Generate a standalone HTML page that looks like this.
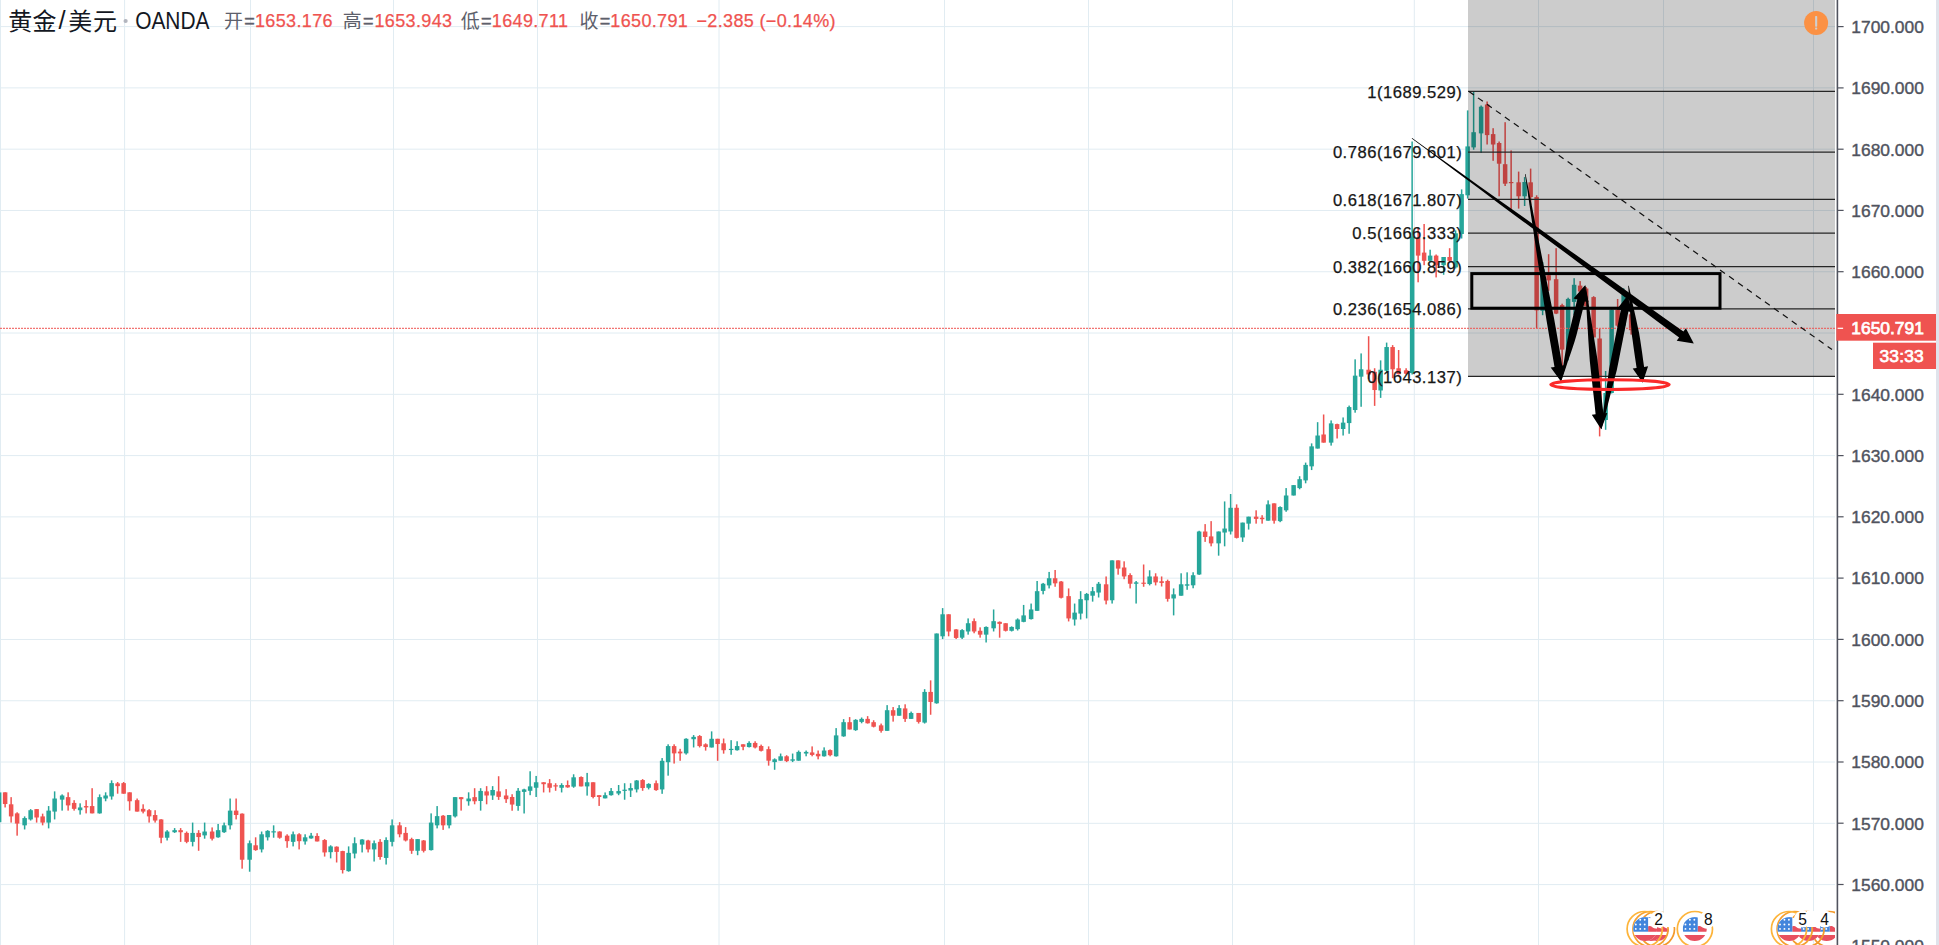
<!DOCTYPE html>
<html><head><meta charset="utf-8"><title>黄金/美元 OANDA</title>
<style>
html,body{margin:0;padding:0;background:#fff;}
body{width:1939px;height:945px;overflow:hidden;position:relative;}
svg{position:absolute;left:0;top:0;}
</style></head>
<body>
<svg width="1939" height="945" viewBox="0 0 1939 945">
<g stroke="#e1ecf2" stroke-width="1"><line x1="0.5" y1="0" x2="0.5" y2="945"/><line x1="124.6" y1="0" x2="124.6" y2="945"/><line x1="250.5" y1="0" x2="250.5" y2="945"/><line x1="393.5" y1="0" x2="393.5" y2="945"/><line x1="537.5" y1="0" x2="537.5" y2="945"/><line x1="719" y1="0" x2="719" y2="945"/><line x1="944.5" y1="0" x2="944.5" y2="945"/><line x1="1088.5" y1="0" x2="1088.5" y2="945"/><line x1="1232.5" y1="0" x2="1232.5" y2="945"/><line x1="1414.3" y1="0" x2="1414.3" y2="945"/><line x1="1538.5" y1="0" x2="1538.5" y2="945"/><line x1="1663.5" y1="0" x2="1663.5" y2="945"/><line x1="1813.5" y1="0" x2="1813.5" y2="945"/><line x1="0" y1="26.6" x2="1835.0" y2="26.6"/><line x1="0" y1="87.89" x2="1835.0" y2="87.89"/><line x1="0" y1="149.17" x2="1835.0" y2="149.17"/><line x1="0" y1="210.46" x2="1835.0" y2="210.46"/><line x1="0" y1="271.74" x2="1835.0" y2="271.74"/><line x1="0" y1="333.03" x2="1835.0" y2="333.03"/><line x1="0" y1="394.32" x2="1835.0" y2="394.32"/><line x1="0" y1="455.6" x2="1835.0" y2="455.6"/><line x1="0" y1="516.89" x2="1835.0" y2="516.89"/><line x1="0" y1="578.17" x2="1835.0" y2="578.17"/><line x1="0" y1="639.46" x2="1835.0" y2="639.46"/><line x1="0" y1="700.75" x2="1835.0" y2="700.75"/><line x1="0" y1="762.03" x2="1835.0" y2="762.03"/><line x1="0" y1="823.32" x2="1835.0" y2="823.32"/><line x1="0" y1="884.6" x2="1835.0" y2="884.6"/><line x1="0" y1="945.89" x2="1835.0" y2="945.89"/></g><g fill="#26a69a"><rect x="-1.62" y="790.50" width="1.5" height="33.50"/><rect x="-3.12" y="792.40" width="4.5" height="29.80"/><rect x="23.88" y="816.40" width="1.5" height="13.07"/><rect x="22.38" y="818.05" width="4.5" height="7.29"/><rect x="29.88" y="809.11" width="1.5" height="11.42"/><rect x="28.38" y="810.21" width="4.5" height="9.22"/><rect x="47.88" y="806.08" width="1.5" height="22.29"/><rect x="46.38" y="810.62" width="4.5" height="11.97"/><rect x="53.88" y="791.37" width="1.5" height="28.06"/><rect x="52.38" y="798.52" width="4.5" height="13.07"/><rect x="61.38" y="794.39" width="1.5" height="16.23"/><rect x="59.88" y="795.49" width="4.5" height="4.13"/><rect x="79.38" y="803.33" width="1.5" height="11.28"/><rect x="77.88" y="807.46" width="4.5" height="2.75"/><rect x="98.88" y="794.39" width="1.5" height="19.26"/><rect x="97.38" y="797.14" width="4.5" height="16.23"/><rect x="104.88" y="792.33" width="1.5" height="8.94"/><rect x="103.38" y="795.49" width="4.5" height="3.03"/><rect x="110.88" y="780.36" width="1.5" height="19.26"/><rect x="109.38" y="783.11" width="4.5" height="13.34"/><rect x="166.38" y="830.16" width="1.5" height="10.32"/><rect x="164.88" y="831.53" width="4.5" height="6.19"/><rect x="173.88" y="828.10" width="1.5" height="4.81"/><rect x="172.38" y="830.16" width="4.5" height="2.06"/><rect x="191.88" y="822.59" width="1.5" height="23.80"/><rect x="190.38" y="832.91" width="4.5" height="8.94"/><rect x="203.88" y="822.59" width="1.5" height="16.10"/><rect x="202.38" y="831.53" width="4.5" height="3.85"/><rect x="217.38" y="823.97" width="1.5" height="13.76"/><rect x="215.88" y="830.16" width="4.5" height="7.15"/><rect x="223.38" y="822.59" width="1.5" height="10.32"/><rect x="221.88" y="825.34" width="4.5" height="6.88"/><rect x="229.38" y="798.52" width="1.5" height="30.95"/><rect x="227.88" y="810.62" width="4.5" height="14.72"/><rect x="248.88" y="840.48" width="1.5" height="31.23"/><rect x="247.38" y="843.23" width="4.5" height="16.51"/><rect x="260.88" y="831.53" width="1.5" height="20.91"/><rect x="259.38" y="834.29" width="4.5" height="15.13"/><rect x="266.88" y="830.16" width="1.5" height="10.32"/><rect x="265.38" y="830.85" width="4.5" height="6.47"/><rect x="272.88" y="825.34" width="1.5" height="12.38"/><rect x="271.38" y="831.26" width="4.5" height="1.20"/><rect x="292.38" y="831.53" width="1.5" height="14.86"/><rect x="290.88" y="834.29" width="4.5" height="7.57"/><rect x="304.38" y="834.29" width="1.5" height="10.32"/><rect x="302.88" y="837.31" width="4.5" height="4.13"/><rect x="310.38" y="832.91" width="1.5" height="5.78"/><rect x="308.88" y="835.66" width="4.5" height="2.75"/><rect x="329.88" y="845.29" width="1.5" height="13.07"/><rect x="328.38" y="846.39" width="4.5" height="5.78"/><rect x="347.88" y="846.39" width="1.5" height="25.31"/><rect x="346.38" y="852.86" width="4.5" height="18.30"/><rect x="353.88" y="837.31" width="1.5" height="21.05"/><rect x="352.38" y="843.23" width="4.5" height="10.32"/><rect x="361.38" y="839.10" width="1.5" height="13.34"/><rect x="359.88" y="839.51" width="4.5" height="5.09"/><rect x="373.38" y="840.48" width="1.5" height="21.05"/><rect x="371.88" y="843.23" width="4.5" height="6.19"/><rect x="385.38" y="837.31" width="1.5" height="27.24"/><rect x="383.88" y="840.06" width="4.5" height="17.88"/><rect x="391.38" y="819.43" width="1.5" height="26.96"/><rect x="389.88" y="825.34" width="4.5" height="16.51"/><rect x="416.88" y="839.10" width="1.5" height="16.10"/><rect x="415.38" y="839.10" width="4.5" height="11.69"/><rect x="430.38" y="813.38" width="1.5" height="37.14"/><rect x="428.88" y="822.59" width="4.5" height="27.51"/><rect x="436.38" y="806.08" width="1.5" height="22.29"/><rect x="434.88" y="816.13" width="4.5" height="9.22"/><rect x="448.38" y="815.03" width="1.5" height="13.34"/><rect x="446.88" y="815.03" width="4.5" height="10.32"/><rect x="454.38" y="797.14" width="1.5" height="20.36"/><rect x="452.88" y="797.14" width="4.5" height="19.26"/><rect x="467.88" y="792.33" width="1.5" height="13.34"/><rect x="466.38" y="798.52" width="4.5" height="2.75"/><rect x="479.88" y="788.20" width="1.5" height="22.42"/><rect x="478.38" y="790.95" width="4.5" height="10.04"/><rect x="491.88" y="786.14" width="1.5" height="13.76"/><rect x="490.38" y="789.99" width="4.5" height="5.50"/><rect x="517.38" y="788.04" width="1.5" height="22.70"/><rect x="515.88" y="790.79" width="4.5" height="15.13"/><rect x="523.38" y="788.73" width="1.5" height="24.76"/><rect x="521.88" y="789.42" width="4.5" height="2.48"/><rect x="529.38" y="771.26" width="1.5" height="23.94"/><rect x="527.88" y="786.39" width="4.5" height="4.40"/><rect x="535.38" y="775.94" width="1.5" height="21.05"/><rect x="533.88" y="782.26" width="4.5" height="5.50"/><rect x="560.88" y="783.23" width="1.5" height="9.22"/><rect x="559.38" y="785.02" width="4.5" height="2.75"/><rect x="572.88" y="774.29" width="1.5" height="13.48"/><rect x="571.38" y="777.31" width="4.5" height="9.35"/><rect x="586.38" y="772.91" width="1.5" height="22.70"/><rect x="584.88" y="782.26" width="4.5" height="4.13"/><rect x="604.38" y="792.44" width="1.5" height="5.92"/><rect x="602.88" y="795.20" width="4.5" height="3.16"/><rect x="610.38" y="788.04" width="1.5" height="7.57"/><rect x="608.88" y="791.07" width="4.5" height="4.13"/><rect x="617.88" y="785.02" width="1.5" height="10.18"/><rect x="616.38" y="791.07" width="4.5" height="2.48"/><rect x="623.88" y="783.23" width="1.5" height="16.51"/><rect x="622.38" y="789.69" width="4.5" height="1.20"/><rect x="629.88" y="783.23" width="1.5" height="13.76"/><rect x="628.38" y="788.04" width="4.5" height="2.48"/><rect x="635.88" y="780.06" width="1.5" height="12.38"/><rect x="634.38" y="780.48" width="4.5" height="8.94"/><rect x="647.88" y="783.23" width="1.5" height="6.19"/><rect x="646.38" y="783.92" width="4.5" height="3.85"/><rect x="661.38" y="758.05" width="1.5" height="35.77"/><rect x="659.88" y="760.80" width="4.5" height="28.61"/><rect x="667.38" y="744.30" width="1.5" height="31.37"/><rect x="665.88" y="746.08" width="4.5" height="16.10"/><rect x="685.38" y="738.24" width="1.5" height="16.37"/><rect x="683.88" y="738.79" width="4.5" height="14.58"/><rect x="692.88" y="735.08" width="1.5" height="12.38"/><rect x="691.38" y="736.87" width="4.5" height="2.34"/><rect x="710.88" y="731.37" width="1.5" height="16.10"/><rect x="709.38" y="738.79" width="4.5" height="8.67"/><rect x="730.38" y="740.17" width="1.5" height="14.58"/><rect x="728.88" y="748.84" width="4.5" height="1.20"/><rect x="736.38" y="741.27" width="1.5" height="9.35"/><rect x="734.88" y="746.08" width="4.5" height="4.13"/><rect x="748.38" y="741.27" width="1.5" height="6.19"/><rect x="746.88" y="742.92" width="4.5" height="4.13"/><rect x="773.88" y="758.36" width="1.5" height="11.42"/><rect x="772.38" y="759.32" width="4.5" height="2.75"/><rect x="779.88" y="753.54" width="1.5" height="7.15"/><rect x="778.38" y="756.30" width="4.5" height="4.40"/><rect x="791.88" y="753.54" width="1.5" height="8.53"/><rect x="790.38" y="759.32" width="4.5" height="1.38"/><rect x="797.88" y="750.52" width="1.5" height="10.18"/><rect x="796.38" y="751.89" width="4.5" height="8.80"/><rect x="805.38" y="750.52" width="1.5" height="5.78"/><rect x="803.88" y="751.89" width="4.5" height="1.65"/><rect x="823.38" y="747.35" width="1.5" height="9.22"/><rect x="821.88" y="750.52" width="4.5" height="5.78"/><rect x="835.38" y="728.10" width="1.5" height="28.48"/><rect x="833.88" y="735.39" width="4.5" height="20.91"/><rect x="842.88" y="719.15" width="1.5" height="17.61"/><rect x="841.38" y="722.18" width="4.5" height="14.17"/><rect x="854.88" y="719.15" width="1.5" height="11.69"/><rect x="853.38" y="719.84" width="4.5" height="10.32"/><rect x="860.88" y="717.50" width="1.5" height="5.78"/><rect x="859.38" y="718.88" width="4.5" height="3.03"/><rect x="886.38" y="705.12" width="1.5" height="25.72"/><rect x="884.88" y="710.21" width="4.5" height="20.63"/><rect x="898.38" y="705.12" width="1.5" height="10.59"/><rect x="896.88" y="708.15" width="4.5" height="7.57"/><rect x="910.38" y="711.59" width="1.5" height="7.29"/><rect x="908.88" y="712.96" width="4.5" height="5.92"/><rect x="923.88" y="689.16" width="1.5" height="34.39"/><rect x="922.38" y="691.92" width="4.5" height="30.68"/><rect x="935.88" y="633.50" width="1.5" height="70.20"/><rect x="934.38" y="633.50" width="4.5" height="69.80"/><rect x="941.88" y="608.10" width="1.5" height="30.95"/><rect x="940.38" y="614.29" width="4.5" height="22.01"/><rect x="961.38" y="629.14" width="1.5" height="9.90"/><rect x="959.88" y="630.11" width="4.5" height="7.57"/><rect x="967.38" y="618.41" width="1.5" height="16.23"/><rect x="965.88" y="623.23" width="4.5" height="8.25"/><rect x="985.38" y="626.39" width="1.5" height="16.10"/><rect x="983.88" y="626.94" width="4.5" height="7.70"/><rect x="992.88" y="609.47" width="1.5" height="22.01"/><rect x="991.38" y="621.16" width="4.5" height="7.15"/><rect x="1010.88" y="626.39" width="1.5" height="5.09"/><rect x="1009.38" y="626.94" width="4.5" height="3.85"/><rect x="1016.88" y="618.41" width="1.5" height="12.11"/><rect x="1015.38" y="619.51" width="4.5" height="9.63"/><rect x="1022.88" y="604.93" width="1.5" height="17.33"/><rect x="1021.38" y="615.39" width="4.5" height="6.47"/><rect x="1030.38" y="603.56" width="1.5" height="15.96"/><rect x="1028.88" y="609.47" width="4.5" height="9.63"/><rect x="1036.38" y="580.99" width="1.5" height="29.85"/><rect x="1034.88" y="591.17" width="4.5" height="19.67"/><rect x="1042.38" y="582.92" width="1.5" height="11.42"/><rect x="1040.88" y="583.75" width="4.5" height="7.15"/><rect x="1048.38" y="571.92" width="1.5" height="16.51"/><rect x="1046.88" y="578.24" width="4.5" height="7.15"/><rect x="1073.88" y="603.56" width="1.5" height="22.01"/><rect x="1072.38" y="612.63" width="4.5" height="6.88"/><rect x="1079.88" y="591.17" width="1.5" height="28.34"/><rect x="1078.38" y="599.15" width="4.5" height="14.44"/><rect x="1085.88" y="592.96" width="1.5" height="25.45"/><rect x="1084.38" y="593.93" width="4.5" height="6.33"/><rect x="1091.88" y="587.05" width="1.5" height="14.58"/><rect x="1090.38" y="591.17" width="4.5" height="4.54"/><rect x="1097.88" y="581.96" width="1.5" height="15.54"/><rect x="1096.38" y="583.75" width="4.5" height="8.80"/><rect x="1111.38" y="560.36" width="1.5" height="43.20"/><rect x="1109.88" y="560.36" width="4.5" height="39.89"/><rect x="1135.38" y="580.99" width="1.5" height="22.56"/><rect x="1133.88" y="582.37" width="4.5" height="1.38"/><rect x="1148.88" y="570.26" width="1.5" height="15.13"/><rect x="1147.38" y="576.46" width="4.5" height="7.57"/><rect x="1172.88" y="588.42" width="1.5" height="26.96"/><rect x="1171.38" y="594.34" width="4.5" height="4.13"/><rect x="1180.38" y="573.29" width="1.5" height="22.42"/><rect x="1178.88" y="584.30" width="4.5" height="11.42"/><rect x="1186.38" y="572.33" width="1.5" height="17.47"/><rect x="1184.88" y="584.30" width="4.5" height="1.38"/><rect x="1192.38" y="572.26" width="1.5" height="16.01"/><rect x="1190.88" y="575.23" width="4.5" height="10.08"/><rect x="1198.38" y="530.76" width="1.5" height="44.17"/><rect x="1196.88" y="531.51" width="4.5" height="42.98"/><rect x="1217.88" y="531.51" width="1.5" height="24.16"/><rect x="1216.38" y="531.51" width="4.5" height="11.86"/><rect x="1223.88" y="501.42" width="1.5" height="44.91"/><rect x="1222.38" y="528.54" width="4.5" height="4.00"/><rect x="1229.88" y="494.01" width="1.5" height="40.46"/><rect x="1228.38" y="507.79" width="4.5" height="23.71"/><rect x="1241.88" y="522.61" width="1.5" height="19.27"/><rect x="1240.38" y="522.61" width="4.5" height="14.82"/><rect x="1247.88" y="516.68" width="1.5" height="12.89"/><rect x="1246.38" y="516.68" width="4.5" height="6.97"/><rect x="1267.38" y="500.38" width="1.5" height="20.30"/><rect x="1265.88" y="504.38" width="4.5" height="16.30"/><rect x="1279.38" y="506.31" width="1.5" height="15.86"/><rect x="1277.88" y="507.05" width="4.5" height="14.08"/><rect x="1285.38" y="488.08" width="1.5" height="23.71"/><rect x="1283.88" y="495.49" width="4.5" height="14.82"/><rect x="1292.88" y="485.12" width="1.5" height="10.37"/><rect x="1291.38" y="485.12" width="4.5" height="10.37"/><rect x="1298.88" y="476.22" width="1.5" height="13.04"/><rect x="1297.38" y="479.19" width="4.5" height="8.89"/><rect x="1304.88" y="462.60" width="1.5" height="20.70"/><rect x="1303.38" y="464.90" width="4.5" height="15.50"/><rect x="1310.88" y="443.38" width="1.5" height="26.68"/><rect x="1309.38" y="446.34" width="4.5" height="20.01"/><rect x="1316.88" y="422.18" width="1.5" height="26.38"/><rect x="1315.38" y="435.52" width="4.5" height="13.04"/><rect x="1330.38" y="420.41" width="1.5" height="25.20"/><rect x="1328.88" y="423.37" width="4.5" height="19.27"/><rect x="1342.38" y="417.44" width="1.5" height="18.08"/><rect x="1340.88" y="422.63" width="4.5" height="6.37"/><rect x="1348.38" y="405.59" width="1.5" height="28.16"/><rect x="1346.88" y="407.07" width="4.5" height="16.01"/><rect x="1354.38" y="359.34" width="1.5" height="53.35"/><rect x="1352.88" y="375.65" width="4.5" height="34.38"/><rect x="1360.38" y="353.42" width="1.5" height="53.35"/><rect x="1358.88" y="369.27" width="4.5" height="7.41"/><rect x="1379.88" y="360.38" width="1.5" height="37.50"/><rect x="1378.38" y="369.72" width="4.5" height="20.75"/><rect x="1385.88" y="342.60" width="1.5" height="29.64"/><rect x="1384.38" y="347.04" width="4.5" height="23.71"/><rect x="1411.38" y="141.50" width="1.5" height="233.00"/><rect x="1409.88" y="236.40" width="4.5" height="136.60"/><rect x="1429.38" y="249.70" width="1.5" height="12.50"/><rect x="1427.88" y="255.60" width="4.5" height="5.20"/><rect x="1442.88" y="257.00" width="1.5" height="17.80"/><rect x="1441.38" y="257.00" width="4.5" height="8.20"/><rect x="1454.88" y="230.40" width="1.5" height="38.10"/><rect x="1453.38" y="233.30" width="4.5" height="34.10"/><rect x="1460.88" y="189.40" width="1.5" height="49.10"/><rect x="1459.38" y="194.10" width="4.5" height="39.90"/><rect x="1466.88" y="110.40" width="1.5" height="88.20"/><rect x="1465.38" y="146.40" width="4.5" height="48.90"/><rect x="1472.88" y="91.10" width="1.5" height="58.60"/><rect x="1471.38" y="132.20" width="4.5" height="15.20"/><rect x="1480.38" y="105.50" width="1.5" height="47.40"/><rect x="1478.88" y="106.70" width="4.5" height="26.70"/><rect x="1523.88" y="177.10" width="1.5" height="28.90"/><rect x="1522.38" y="182.00" width="4.5" height="14.30"/><rect x="1541.88" y="262.00" width="1.5" height="53.20"/><rect x="1540.38" y="269.30" width="4.5" height="41.50"/><rect x="1567.38" y="297.70" width="1.5" height="62.70"/><rect x="1565.88" y="298.90" width="4.5" height="50.70"/><rect x="1573.38" y="278.20" width="1.5" height="37.00"/><rect x="1571.88" y="284.80" width="4.5" height="17.10"/><rect x="1604.88" y="371.00" width="1.5" height="58.80"/><rect x="1603.38" y="393.00" width="4.5" height="27.00"/><rect x="1610.88" y="309.30" width="1.5" height="84.20"/><rect x="1609.38" y="309.80" width="4.5" height="83.20"/><rect x="1622.88" y="288.30" width="1.5" height="43.20"/><rect x="1621.38" y="294.50" width="4.5" height="31.10"/></g><g fill="#ef5350"><rect x="4.38" y="792.33" width="1.5" height="15.13"/><rect x="2.88" y="792.33" width="4.5" height="11.69"/><rect x="10.38" y="797.14" width="1.5" height="25.45"/><rect x="8.88" y="804.30" width="4.5" height="12.11"/><rect x="16.38" y="812.28" width="1.5" height="23.39"/><rect x="14.88" y="813.38" width="4.5" height="10.18"/><rect x="35.88" y="809.11" width="1.5" height="13.48"/><rect x="34.38" y="809.11" width="4.5" height="8.39"/><rect x="41.88" y="813.65" width="1.5" height="11.69"/><rect x="40.38" y="816.40" width="4.5" height="6.19"/><rect x="67.38" y="792.33" width="1.5" height="18.30"/><rect x="65.88" y="797.14" width="4.5" height="8.25"/><rect x="73.38" y="800.17" width="1.5" height="10.46"/><rect x="71.88" y="802.92" width="4.5" height="5.92"/><rect x="85.38" y="800.17" width="1.5" height="13.21"/><rect x="83.88" y="806.08" width="4.5" height="1.38"/><rect x="91.38" y="788.20" width="1.5" height="25.17"/><rect x="89.88" y="806.08" width="4.5" height="7.29"/><rect x="116.88" y="782.01" width="1.5" height="11.69"/><rect x="115.38" y="783.39" width="4.5" height="2.75"/><rect x="122.88" y="782.01" width="1.5" height="11.69"/><rect x="121.38" y="783.11" width="4.5" height="10.59"/><rect x="128.88" y="792.33" width="1.5" height="18.30"/><rect x="127.38" y="792.33" width="4.5" height="8.94"/><rect x="136.38" y="798.52" width="1.5" height="13.07"/><rect x="134.88" y="800.17" width="4.5" height="11.42"/><rect x="142.38" y="804.30" width="1.5" height="9.08"/><rect x="140.88" y="808.84" width="4.5" height="2.75"/><rect x="148.38" y="809.11" width="1.5" height="13.48"/><rect x="146.88" y="810.21" width="4.5" height="6.19"/><rect x="154.38" y="810.21" width="1.5" height="12.38"/><rect x="152.88" y="815.03" width="4.5" height="5.50"/><rect x="160.38" y="819.15" width="1.5" height="24.07"/><rect x="158.88" y="819.43" width="4.5" height="18.30"/><rect x="179.88" y="828.10" width="1.5" height="13.76"/><rect x="178.38" y="830.16" width="4.5" height="2.06"/><rect x="185.88" y="831.53" width="1.5" height="11.69"/><rect x="184.38" y="832.91" width="4.5" height="8.94"/><rect x="197.88" y="830.16" width="1.5" height="20.63"/><rect x="196.38" y="832.91" width="4.5" height="4.13"/><rect x="211.38" y="827.41" width="1.5" height="13.07"/><rect x="209.88" y="831.53" width="4.5" height="7.15"/><rect x="235.38" y="798.52" width="1.5" height="20.91"/><rect x="233.88" y="810.62" width="4.5" height="4.40"/><rect x="241.38" y="813.38" width="1.5" height="55.30"/><rect x="239.88" y="813.65" width="4.5" height="46.08"/><rect x="254.88" y="837.31" width="1.5" height="13.48"/><rect x="253.38" y="845.29" width="4.5" height="4.81"/><rect x="278.88" y="831.26" width="1.5" height="7.43"/><rect x="277.38" y="831.53" width="4.5" height="6.19"/><rect x="286.38" y="834.29" width="1.5" height="13.48"/><rect x="284.88" y="835.66" width="4.5" height="5.50"/><rect x="298.38" y="833.19" width="1.5" height="16.23"/><rect x="296.88" y="834.29" width="4.5" height="6.88"/><rect x="316.38" y="833.19" width="1.5" height="8.25"/><rect x="314.88" y="835.94" width="4.5" height="5.50"/><rect x="323.88" y="839.10" width="1.5" height="17.47"/><rect x="322.38" y="840.06" width="4.5" height="12.38"/><rect x="335.88" y="846.39" width="1.5" height="16.10"/><rect x="334.38" y="846.67" width="4.5" height="5.23"/><rect x="341.88" y="850.79" width="1.5" height="22.70"/><rect x="340.38" y="851.07" width="4.5" height="18.98"/><rect x="367.38" y="839.79" width="1.5" height="12.66"/><rect x="365.88" y="840.48" width="4.5" height="8.94"/><rect x="379.38" y="839.10" width="1.5" height="20.63"/><rect x="377.88" y="841.85" width="4.5" height="15.13"/><rect x="398.88" y="822.18" width="1.5" height="15.13"/><rect x="397.38" y="825.34" width="4.5" height="8.94"/><rect x="404.88" y="827.13" width="1.5" height="14.31"/><rect x="403.38" y="832.91" width="4.5" height="7.57"/><rect x="410.88" y="837.72" width="1.5" height="16.10"/><rect x="409.38" y="839.10" width="4.5" height="11.69"/><rect x="422.88" y="840.06" width="1.5" height="12.38"/><rect x="421.38" y="840.48" width="4.5" height="10.32"/><rect x="442.38" y="815.03" width="1.5" height="14.86"/><rect x="440.88" y="815.71" width="4.5" height="9.63"/><rect x="460.38" y="797.14" width="1.5" height="13.48"/><rect x="458.88" y="797.14" width="4.5" height="2.06"/><rect x="473.88" y="788.20" width="1.5" height="16.10"/><rect x="472.38" y="797.14" width="4.5" height="4.13"/><rect x="485.88" y="786.14" width="1.5" height="18.16"/><rect x="484.38" y="791.37" width="4.5" height="4.13"/><rect x="497.88" y="776.23" width="1.5" height="23.66"/><rect x="496.38" y="791.37" width="4.5" height="5.50"/><rect x="505.38" y="789.16" width="1.5" height="13.76"/><rect x="503.88" y="795.49" width="4.5" height="3.71"/><rect x="511.38" y="794.23" width="1.5" height="16.51"/><rect x="509.88" y="796.98" width="4.5" height="7.57"/><rect x="542.88" y="782.26" width="1.5" height="10.18"/><rect x="541.38" y="782.26" width="4.5" height="1.93"/><rect x="548.88" y="779.10" width="1.5" height="13.34"/><rect x="547.38" y="783.23" width="4.5" height="4.54"/><rect x="554.88" y="783.23" width="1.5" height="7.57"/><rect x="553.38" y="785.29" width="4.5" height="1.20"/><rect x="566.88" y="780.48" width="1.5" height="7.29"/><rect x="565.38" y="785.02" width="4.5" height="2.34"/><rect x="580.38" y="776.35" width="1.5" height="10.04"/><rect x="578.88" y="777.04" width="4.5" height="9.35"/><rect x="592.38" y="782.26" width="1.5" height="16.10"/><rect x="590.88" y="782.26" width="4.5" height="14.72"/><rect x="598.38" y="795.20" width="1.5" height="10.73"/><rect x="596.88" y="795.20" width="4.5" height="1.79"/><rect x="641.88" y="779.10" width="1.5" height="11.69"/><rect x="640.38" y="780.06" width="4.5" height="7.98"/><rect x="655.38" y="780.48" width="1.5" height="10.32"/><rect x="653.88" y="783.23" width="4.5" height="6.88"/><rect x="673.38" y="744.30" width="1.5" height="19.26"/><rect x="671.88" y="746.08" width="4.5" height="7.29"/><rect x="679.38" y="748.84" width="1.5" height="11.97"/><rect x="677.88" y="751.59" width="4.5" height="1.79"/><rect x="698.88" y="735.08" width="1.5" height="12.38"/><rect x="697.38" y="736.04" width="4.5" height="10.04"/><rect x="704.88" y="743.33" width="1.5" height="7.29"/><rect x="703.38" y="744.30" width="4.5" height="2.75"/><rect x="716.88" y="738.79" width="1.5" height="22.01"/><rect x="715.38" y="738.79" width="4.5" height="5.23"/><rect x="722.88" y="738.52" width="1.5" height="15.13"/><rect x="721.38" y="743.33" width="4.5" height="6.88"/><rect x="742.38" y="744.30" width="1.5" height="5.92"/><rect x="740.88" y="744.30" width="4.5" height="2.48"/><rect x="754.38" y="741.27" width="1.5" height="7.15"/><rect x="752.88" y="742.92" width="4.5" height="4.54"/><rect x="760.38" y="744.60" width="1.5" height="6.88"/><rect x="758.88" y="745.98" width="4.5" height="4.81"/><rect x="767.88" y="746.39" width="1.5" height="19.26"/><rect x="766.38" y="749.14" width="4.5" height="11.56"/><rect x="785.88" y="755.20" width="1.5" height="6.88"/><rect x="784.38" y="756.30" width="4.5" height="4.81"/><rect x="811.38" y="746.39" width="1.5" height="9.90"/><rect x="809.88" y="752.44" width="4.5" height="2.48"/><rect x="817.38" y="750.52" width="1.5" height="8.80"/><rect x="815.88" y="753.82" width="4.5" height="2.48"/><rect x="829.38" y="749.42" width="1.5" height="6.88"/><rect x="827.88" y="750.11" width="4.5" height="5.09"/><rect x="848.88" y="717.09" width="1.5" height="12.38"/><rect x="847.38" y="722.18" width="4.5" height="7.29"/><rect x="866.88" y="716.13" width="1.5" height="7.43"/><rect x="865.38" y="718.88" width="4.5" height="4.40"/><rect x="872.88" y="720.25" width="1.5" height="7.15"/><rect x="871.38" y="722.18" width="4.5" height="4.54"/><rect x="880.38" y="723.56" width="1.5" height="9.08"/><rect x="878.88" y="725.34" width="4.5" height="5.50"/><rect x="892.38" y="707.05" width="1.5" height="14.58"/><rect x="890.88" y="710.21" width="4.5" height="5.50"/><rect x="904.38" y="704.30" width="1.5" height="17.61"/><rect x="902.88" y="708.42" width="4.5" height="10.46"/><rect x="917.88" y="712.96" width="1.5" height="10.59"/><rect x="916.38" y="712.96" width="4.5" height="8.94"/><rect x="929.88" y="680.36" width="1.5" height="34.39"/><rect x="928.38" y="691.92" width="4.5" height="10.04"/><rect x="947.88" y="614.29" width="1.5" height="22.01"/><rect x="946.38" y="614.29" width="4.5" height="17.20"/><rect x="955.38" y="629.14" width="1.5" height="9.90"/><rect x="953.88" y="629.42" width="4.5" height="8.53"/><rect x="973.38" y="618.41" width="1.5" height="14.86"/><rect x="971.88" y="621.16" width="4.5" height="10.32"/><rect x="979.38" y="627.35" width="1.5" height="10.32"/><rect x="977.88" y="630.79" width="4.5" height="3.85"/><rect x="998.88" y="621.44" width="1.5" height="16.23"/><rect x="997.38" y="621.85" width="4.5" height="2.06"/><rect x="1004.88" y="623.23" width="1.5" height="8.25"/><rect x="1003.38" y="623.23" width="4.5" height="7.57"/><rect x="1054.38" y="569.99" width="1.5" height="16.78"/><rect x="1052.88" y="578.24" width="4.5" height="5.09"/><rect x="1060.38" y="580.99" width="1.5" height="17.47"/><rect x="1058.88" y="581.54" width="4.5" height="16.23"/><rect x="1067.88" y="588.42" width="1.5" height="33.02"/><rect x="1066.38" y="596.13" width="4.5" height="22.29"/><rect x="1105.38" y="576.46" width="1.5" height="27.93"/><rect x="1103.88" y="584.30" width="4.5" height="16.23"/><rect x="1117.38" y="560.36" width="1.5" height="14.31"/><rect x="1115.88" y="560.36" width="4.5" height="8.25"/><rect x="1123.38" y="561.32" width="1.5" height="17.88"/><rect x="1121.88" y="567.51" width="4.5" height="8.94"/><rect x="1129.38" y="573.29" width="1.5" height="15.13"/><rect x="1127.88" y="575.08" width="4.5" height="8.67"/><rect x="1142.88" y="564.49" width="1.5" height="22.29"/><rect x="1141.38" y="582.65" width="4.5" height="1.20"/><rect x="1154.88" y="573.29" width="1.5" height="12.11"/><rect x="1153.38" y="576.46" width="4.5" height="5.92"/><rect x="1160.88" y="576.46" width="1.5" height="10.04"/><rect x="1159.38" y="581.27" width="4.5" height="1.65"/><rect x="1166.88" y="579.62" width="1.5" height="22.01"/><rect x="1165.38" y="580.99" width="4.5" height="17.88"/><rect x="1204.38" y="524.10" width="1.5" height="17.78"/><rect x="1202.88" y="531.51" width="4.5" height="5.48"/><rect x="1210.38" y="521.13" width="1.5" height="25.20"/><rect x="1208.88" y="536.40" width="4.5" height="6.97"/><rect x="1235.88" y="504.38" width="1.5" height="34.09"/><rect x="1234.38" y="507.79" width="4.5" height="30.09"/><rect x="1255.38" y="510.31" width="1.5" height="13.34"/><rect x="1253.88" y="516.68" width="4.5" height="2.22"/><rect x="1261.38" y="515.20" width="1.5" height="8.45"/><rect x="1259.88" y="517.72" width="4.5" height="1.48"/><rect x="1273.38" y="503.35" width="1.5" height="20.30"/><rect x="1271.88" y="503.35" width="4.5" height="17.34"/><rect x="1322.88" y="414.48" width="1.5" height="28.16"/><rect x="1321.38" y="434.49" width="4.5" height="8.15"/><rect x="1336.38" y="423.67" width="1.5" height="14.82"/><rect x="1334.88" y="424.11" width="4.5" height="4.89"/><rect x="1367.88" y="336.22" width="1.5" height="42.68"/><rect x="1366.38" y="369.72" width="4.5" height="4.74"/><rect x="1373.88" y="368.24" width="1.5" height="37.64"/><rect x="1372.38" y="371.79" width="4.5" height="18.23"/><rect x="1391.88" y="345.12" width="1.5" height="33.05"/><rect x="1390.38" y="347.04" width="4.5" height="22.23"/><rect x="1397.88" y="350.01" width="1.5" height="24.45"/><rect x="1396.38" y="368.24" width="4.5" height="5.93"/><rect x="1405.38" y="368.24" width="1.5" height="6.22"/><rect x="1403.88" y="370.31" width="4.5" height="3.41"/><rect x="1417.38" y="227.40" width="1.5" height="54.90"/><rect x="1415.88" y="237.80" width="4.5" height="17.80"/><rect x="1423.38" y="224.00" width="1.5" height="41.20"/><rect x="1421.88" y="252.60" width="4.5" height="8.20"/><rect x="1435.38" y="254.50" width="1.5" height="22.90"/><rect x="1433.88" y="255.60" width="4.5" height="9.60"/><rect x="1448.88" y="248.20" width="1.5" height="14.00"/><rect x="1447.38" y="257.00" width="4.5" height="3.80"/><rect x="1486.38" y="101.50" width="1.5" height="43.00"/><rect x="1484.88" y="104.50" width="4.5" height="30.60"/><rect x="1492.38" y="128.20" width="1.5" height="32.60"/><rect x="1490.88" y="134.10" width="4.5" height="10.40"/><rect x="1498.38" y="141.50" width="1.5" height="54.80"/><rect x="1496.88" y="143.00" width="4.5" height="20.70"/><rect x="1504.38" y="122.20" width="1.5" height="63.80"/><rect x="1502.88" y="164.20" width="4.5" height="19.50"/><rect x="1510.38" y="150.40" width="1.5" height="58.50"/><rect x="1508.88" y="182.00" width="4.5" height="1.20"/><rect x="1517.88" y="171.60" width="1.5" height="37.00"/><rect x="1516.38" y="182.30" width="4.5" height="14.00"/><rect x="1529.88" y="168.60" width="1.5" height="36.40"/><rect x="1528.38" y="182.30" width="4.5" height="14.80"/><rect x="1535.88" y="195.30" width="1.5" height="132.90"/><rect x="1534.38" y="197.10" width="4.5" height="113.30"/><rect x="1547.88" y="254.20" width="1.5" height="36.60"/><rect x="1546.38" y="275.20" width="4.5" height="5.20"/><rect x="1555.38" y="248.20" width="1.5" height="65.90"/><rect x="1553.88" y="279.20" width="4.5" height="34.40"/><rect x="1561.38" y="303.70" width="1.5" height="63.40"/><rect x="1559.88" y="305.10" width="4.5" height="44.50"/><rect x="1579.38" y="281.10" width="1.5" height="11.90"/><rect x="1577.88" y="285.60" width="4.5" height="5.90"/><rect x="1585.38" y="287.00" width="1.5" height="19.30"/><rect x="1583.88" y="288.50" width="4.5" height="17.80"/><rect x="1592.88" y="296.20" width="1.5" height="41.20"/><rect x="1591.38" y="297.10" width="4.5" height="40.30"/><rect x="1598.88" y="328.60" width="1.5" height="107.80"/><rect x="1597.38" y="338.50" width="4.5" height="81.50"/><rect x="1616.88" y="299.00" width="1.5" height="28.00"/><rect x="1615.38" y="309.80" width="4.5" height="15.90"/><rect x="1630.38" y="309.30" width="1.5" height="25.30"/><rect x="1628.88" y="314.30" width="4.5" height="15.90"/></g><rect x="1468.0" y="0" width="367.0" height="376.3" fill="#000" fill-opacity="0.2"/><line x1="0" y1="328.3" x2="1835.0" y2="328.3" stroke="#ef5350" stroke-width="1" stroke-dasharray="2 1"/><g stroke="#262626" stroke-width="1.2"><line x1="1468.0" y1="91.3" x2="1835.0" y2="91.3"/><line x1="1468.0" y1="152.2" x2="1835.0" y2="152.2"/><line x1="1468.0" y1="199.3" x2="1835.0" y2="199.3"/><line x1="1468.0" y1="233.2" x2="1835.0" y2="233.2"/><line x1="1468.0" y1="266.6" x2="1835.0" y2="266.6"/><line x1="1468.0" y1="308.9" x2="1835.0" y2="308.9"/><line x1="1468.0" y1="376.3" x2="1835.0" y2="376.3"/></g><g font-family="&#39;Liberation Sans&#39;, sans-serif" font-size="16.6" letter-spacing="0.5" fill="#161616" stroke="#161616" stroke-width="0.25" text-anchor="end"><text x="1462.2" y="97.5">1(1689.529)</text><text x="1462.2" y="158.4">0.786(1679.601)</text><text x="1462.2" y="205.5">0.618(1671.807)</text><text x="1462.2" y="239.4">0.5(1666.333)</text><text x="1462.2" y="272.8">0.382(1660.859)</text><text x="1462.2" y="315.1">0.236(1654.086)</text><text x="1462.2" y="382.5">0(1643.137)</text></g><line x1="1469" y1="91.5" x2="1832" y2="349.5" stroke="#111" stroke-width="1.2" stroke-dasharray="6 5"/><rect x="1471.8" y="273.6" width="248.2" height="34.6" fill="none" stroke="#000" stroke-width="3"/><g fill="#000"><polygon points="1411.7,138.5 1434.0,155.1 1456.3,171.7 1478.6,188.3 1500.8,204.9 1523.1,221.4 1545.4,238.0 1567.7,254.6 1590.0,271.2 1612.2,287.7 1634.5,304.3 1656.8,320.9 1679.1,337.5 1676.7,340.8 1693.8,343.6 1685.9,328.2 1683.4,331.5 1660.8,315.4 1638.2,299.2 1615.6,283.1 1593.0,267.0 1570.4,250.9 1547.8,234.8 1525.2,218.6 1502.5,202.5 1479.9,186.4 1457.3,170.3 1434.7,154.2 1412.1,138.1"/><polygon points="1525.0,174.3 1527.4,190.3 1529.7,206.4 1532.1,222.5 1534.5,238.5 1536.8,254.6 1539.2,270.7 1541.6,286.7 1543.9,302.8 1546.3,318.9 1549.0,334.9 1551.8,350.9 1554.5,366.9 1550.7,367.5 1561.0,381.5 1566.1,364.9 1562.2,365.6 1559.5,349.6 1556.7,333.6 1553.9,317.6 1550.8,301.6 1547.6,285.7 1544.5,269.8 1541.3,253.8 1538.2,237.9 1535.0,222.0 1531.9,206.0 1528.7,190.1 1525.6,174.1"/><polygon points="1561.3,381.1 1563.5,374.5 1565.7,367.9 1567.9,361.3 1570.2,354.8 1572.4,348.2 1574.6,341.6 1576.5,334.9 1578.2,328.2 1579.8,321.5 1581.5,314.8 1583.2,308.1 1584.8,301.4 1588.6,302.3 1584.8,285.4 1573.5,298.6 1577.3,299.5 1575.6,306.2 1573.9,312.9 1572.3,319.6 1570.6,326.4 1568.9,333.1 1567.5,339.8 1566.3,346.7 1565.2,353.5 1564.1,360.4 1563.0,367.2 1561.8,374.1 1560.7,380.9"/><polygon points="1585.1,285.6 1585.7,296.4 1586.4,307.1 1587.0,317.9 1587.7,328.6 1588.3,339.4 1589.0,350.1 1589.8,360.9 1590.9,371.6 1592.1,382.2 1593.3,392.9 1594.5,403.6 1595.6,414.3 1591.8,414.7 1601.2,429.3 1607.3,413.0 1603.4,413.5 1602.2,402.8 1601.0,392.1 1599.9,381.4 1598.7,370.7 1597.5,360.0 1595.9,349.4 1594.2,338.7 1592.5,328.1 1590.8,317.5 1589.1,306.8 1587.4,296.2 1585.7,285.6"/><polygon points="1601.5,429.1 1604.0,419.3 1606.6,409.6 1609.1,399.8 1611.6,390.1 1614.1,380.3 1616.7,370.6 1618.7,360.8 1620.6,350.9 1622.6,341.0 1624.5,331.2 1626.5,321.3 1628.4,311.5 1632.2,312.2 1627.6,295.5 1616.9,309.2 1620.8,309.9 1618.8,319.8 1616.9,329.7 1614.9,339.5 1613.0,349.4 1611.0,359.2 1609.1,369.1 1607.8,379.1 1606.4,389.1 1605.0,399.0 1603.6,409.0 1602.3,419.0 1600.9,428.9"/><polygon points="1628.2,285.8 1628.7,292.7 1629.2,299.6 1629.7,306.5 1630.2,313.3 1630.7,320.2 1631.2,327.1 1631.7,334.0 1632.7,340.8 1633.6,347.6 1634.6,354.4 1635.6,361.2 1636.6,368.0 1632.7,368.6 1642.6,382.8 1648.1,366.3 1644.1,366.9 1643.1,360.1 1642.2,353.3 1641.2,346.5 1640.2,339.7 1639.1,332.9 1637.6,326.2 1636.2,319.4 1634.7,312.7 1633.2,306.0 1631.7,299.2 1630.3,292.5 1628.8,285.8"/></g><ellipse cx="1610" cy="384.6" rx="59.2" ry="4.9" fill="none" stroke="#fb2a2a" stroke-width="3"/><circle cx="1816.1" cy="22.9" r="12" fill="#fb9144"/><rect x="1815.1" y="16.1" width="2.1" height="10.6" rx="0.6" fill="#cfcfcf"/><rect x="1815.1" y="27.6" width="2.1" height="1.9" rx="0.5" fill="#cfcfcf"/>
<clipPath id="chartclip"><rect x="0" y="0" width="1835" height="945"/></clipPath><g clip-path="url(#chartclip)"><clipPath id="fc1"><circle cx="1657.0" cy="929.1" r="12.0"/></clipPath><g clip-path="url(#fc1)"><rect x="1645.0" y="917.1" width="24.0" height="24.0" fill="#ffffff"/><path d="M1660.0 926.5 C1661.5 925.7,1662.6 925.9,1664.0 926.9 C1665.5 928.1,1667.0 928.7,1673.0 928.9 L1673.0 931.7 L1660.0 931.7 Z" fill="#e8505f"/><rect x="1645.0" y="935.0" width="24.0" height="7" fill="#e8505f"/><rect x="1645.0" y="917.1" width="15.0" height="14.6" fill="#4285dc"/><circle cx="1647.7" cy="919.8000000000001" r="0.95" fill="#fff"/><circle cx="1652.15" cy="919.8000000000001" r="0.95" fill="#fff"/><circle cx="1656.6" cy="919.8000000000001" r="0.95" fill="#fff"/><circle cx="1647.7" cy="924.5" r="0.95" fill="#fff"/><circle cx="1652.15" cy="924.5" r="0.95" fill="#fff"/><circle cx="1656.6" cy="924.5" r="0.95" fill="#fff"/><circle cx="1647.7" cy="928.9" r="0.95" fill="#fff"/><circle cx="1652.15" cy="928.9" r="0.95" fill="#fff"/><circle cx="1656.6" cy="928.9" r="0.95" fill="#fff"/></g><circle cx="1656.9" cy="929.1" r="17.6" fill="none" stroke="#f39a2b" stroke-width="1.7"/><clipPath id="fc2"><circle cx="1651.0" cy="929.1" r="12.0"/></clipPath><g clip-path="url(#fc2)"><rect x="1639.0" y="917.1" width="24.0" height="24.0" fill="#ffffff"/><path d="M1654.0 926.5 C1655.5 925.7,1656.6 925.9,1658.0 926.9 C1659.5 928.1,1661.0 928.7,1667.0 928.9 L1667.0 931.7 L1654.0 931.7 Z" fill="#e8505f"/><rect x="1639.0" y="935.0" width="24.0" height="7" fill="#e8505f"/><rect x="1639.0" y="917.1" width="15.0" height="14.6" fill="#4285dc"/><circle cx="1641.7" cy="919.8000000000001" r="0.95" fill="#fff"/><circle cx="1646.15" cy="919.8000000000001" r="0.95" fill="#fff"/><circle cx="1650.6" cy="919.8000000000001" r="0.95" fill="#fff"/><circle cx="1641.7" cy="924.5" r="0.95" fill="#fff"/><circle cx="1646.15" cy="924.5" r="0.95" fill="#fff"/><circle cx="1650.6" cy="924.5" r="0.95" fill="#fff"/><circle cx="1641.7" cy="928.9" r="0.95" fill="#fff"/><circle cx="1646.15" cy="928.9" r="0.95" fill="#fff"/><circle cx="1650.6" cy="928.9" r="0.95" fill="#fff"/></g><circle cx="1650.5" cy="929.1" r="17.6" fill="none" stroke="#f5a030" stroke-width="1.7"/><clipPath id="fc3"><circle cx="1645.1" cy="929.1" r="12.0"/></clipPath><g clip-path="url(#fc3)"><rect x="1633.1" y="917.1" width="24.0" height="24.0" fill="#ffffff"/><path d="M1648.1 926.5 C1649.6 925.7,1650.6999999999998 925.9,1652.1 926.9 C1653.6 928.1,1655.1 928.7,1661.1 928.9 L1661.1 931.7 L1648.1 931.7 Z" fill="#e8505f"/><rect x="1633.1" y="935.0" width="24.0" height="7" fill="#e8505f"/><rect x="1633.1" y="917.1" width="15.0" height="14.6" fill="#4285dc"/><circle cx="1635.8" cy="919.8000000000001" r="0.95" fill="#fff"/><circle cx="1640.25" cy="919.8000000000001" r="0.95" fill="#fff"/><circle cx="1644.6999999999998" cy="919.8000000000001" r="0.95" fill="#fff"/><circle cx="1635.8" cy="924.5" r="0.95" fill="#fff"/><circle cx="1640.25" cy="924.5" r="0.95" fill="#fff"/><circle cx="1644.6999999999998" cy="924.5" r="0.95" fill="#fff"/><circle cx="1635.8" cy="928.9" r="0.95" fill="#fff"/><circle cx="1640.25" cy="928.9" r="0.95" fill="#fff"/><circle cx="1644.6999999999998" cy="928.9" r="0.95" fill="#fff"/></g><circle cx="1644.7" cy="929.1" r="17.6" fill="none" stroke="#fdb43a" stroke-width="1.7"/><clipPath id="fc4"><circle cx="1694.75" cy="929.1" r="12.0"/></clipPath><g clip-path="url(#fc4)"><rect x="1682.75" y="917.1" width="24.0" height="24.0" fill="#ffffff"/><path d="M1697.75 926.5 C1699.25 925.7,1700.35 925.9,1701.75 926.9 C1703.25 928.1,1704.75 928.7,1710.75 928.9 L1710.75 931.7 L1697.75 931.7 Z" fill="#e8505f"/><rect x="1682.75" y="935.0" width="24.0" height="7" fill="#e8505f"/><rect x="1682.75" y="917.1" width="15.0" height="14.6" fill="#4285dc"/><circle cx="1685.45" cy="919.8000000000001" r="0.95" fill="#fff"/><circle cx="1689.9" cy="919.8000000000001" r="0.95" fill="#fff"/><circle cx="1694.35" cy="919.8000000000001" r="0.95" fill="#fff"/><circle cx="1685.45" cy="924.5" r="0.95" fill="#fff"/><circle cx="1689.9" cy="924.5" r="0.95" fill="#fff"/><circle cx="1694.35" cy="924.5" r="0.95" fill="#fff"/><circle cx="1685.45" cy="928.9" r="0.95" fill="#fff"/><circle cx="1689.9" cy="928.9" r="0.95" fill="#fff"/><circle cx="1694.35" cy="928.9" r="0.95" fill="#fff"/></g><circle cx="1694.9" cy="929.1" r="17.6" fill="none" stroke="#fdb43a" stroke-width="1.7"/><clipPath id="fc5"><circle cx="1826.7" cy="929.1" r="12.0"/></clipPath><g clip-path="url(#fc5)"><rect x="1814.7" y="917.1" width="24.0" height="24.0" fill="#ffffff"/><path d="M1829.7 926.5 C1831.2 925.7,1832.3 925.9,1833.7 926.9 C1835.2 928.1,1836.7 928.7,1842.7 928.9 L1842.7 931.7 L1829.7 931.7 Z" fill="#e8505f"/><rect x="1814.7" y="935.0" width="24.0" height="7" fill="#e8505f"/><rect x="1814.7" y="917.1" width="15.0" height="14.6" fill="#4285dc"/><circle cx="1817.4" cy="919.8000000000001" r="0.95" fill="#fff"/><circle cx="1821.8500000000001" cy="919.8000000000001" r="0.95" fill="#fff"/><circle cx="1826.3" cy="919.8000000000001" r="0.95" fill="#fff"/><circle cx="1817.4" cy="924.5" r="0.95" fill="#fff"/><circle cx="1821.8500000000001" cy="924.5" r="0.95" fill="#fff"/><circle cx="1826.3" cy="924.5" r="0.95" fill="#fff"/><circle cx="1817.4" cy="928.9" r="0.95" fill="#fff"/><circle cx="1821.8500000000001" cy="928.9" r="0.95" fill="#fff"/><circle cx="1826.3" cy="928.9" r="0.95" fill="#fff"/></g><circle cx="1829.0" cy="929.1" r="17.6" fill="none" stroke="#f39a2b" stroke-width="1.7"/><clipPath id="fc6"><circle cx="1808.5" cy="929.1" r="12.0"/></clipPath><g clip-path="url(#fc6)"><rect x="1796.5" y="917.1" width="24.0" height="24.0" fill="#ffffff"/><path d="M1811.5 926.5 C1813.0 925.7,1814.1 925.9,1815.5 926.9 C1817.0 928.1,1818.5 928.7,1824.5 928.9 L1824.5 931.7 L1811.5 931.7 Z" fill="#e8505f"/><rect x="1796.5" y="935.0" width="24.0" height="7" fill="#e8505f"/><rect x="1796.5" y="917.1" width="15.0" height="14.6" fill="#4285dc"/><circle cx="1799.2" cy="919.8000000000001" r="0.95" fill="#fff"/><circle cx="1803.65" cy="919.8000000000001" r="0.95" fill="#fff"/><circle cx="1808.1" cy="919.8000000000001" r="0.95" fill="#fff"/><circle cx="1799.2" cy="924.5" r="0.95" fill="#fff"/><circle cx="1803.65" cy="924.5" r="0.95" fill="#fff"/><circle cx="1808.1" cy="924.5" r="0.95" fill="#fff"/><circle cx="1799.2" cy="928.9" r="0.95" fill="#fff"/><circle cx="1803.65" cy="928.9" r="0.95" fill="#fff"/><circle cx="1808.1" cy="928.9" r="0.95" fill="#fff"/></g><circle cx="1806.5" cy="929.1" r="17.6" fill="none" stroke="#f39a2b" stroke-width="1.7"/><circle cx="1794.7" cy="929.1" r="17.6" fill="none" stroke="#f5a030" stroke-width="1.7"/><clipPath id="fc7"><circle cx="1789.3" cy="929.1" r="12.0"/></clipPath><g clip-path="url(#fc7)"><rect x="1777.3" y="917.1" width="24.0" height="24.0" fill="#ffffff"/><path d="M1792.3 926.5 C1793.8 925.7,1794.8999999999999 925.9,1796.3 926.9 C1797.8 928.1,1799.3 928.7,1805.3 928.9 L1805.3 931.7 L1792.3 931.7 Z" fill="#e8505f"/><rect x="1777.3" y="935.0" width="24.0" height="7" fill="#e8505f"/><rect x="1777.3" y="917.1" width="15.0" height="14.6" fill="#4285dc"/><circle cx="1780.0" cy="919.8000000000001" r="0.95" fill="#fff"/><circle cx="1784.45" cy="919.8000000000001" r="0.95" fill="#fff"/><circle cx="1788.8999999999999" cy="919.8000000000001" r="0.95" fill="#fff"/><circle cx="1780.0" cy="924.5" r="0.95" fill="#fff"/><circle cx="1784.45" cy="924.5" r="0.95" fill="#fff"/><circle cx="1788.8999999999999" cy="924.5" r="0.95" fill="#fff"/><circle cx="1780.0" cy="928.9" r="0.95" fill="#fff"/><circle cx="1784.45" cy="928.9" r="0.95" fill="#fff"/><circle cx="1788.8999999999999" cy="928.9" r="0.95" fill="#fff"/></g><circle cx="1789.0" cy="929.1" r="17.6" fill="none" stroke="#fdb43a" stroke-width="1.7"/><circle cx="1658.7" cy="919" r="8.6" fill="#fff"/><circle cx="1708.3" cy="919" r="8.6" fill="#fff"/><circle cx="1802.7" cy="919" r="8.6" fill="#fff"/><circle cx="1824.7" cy="919" r="8.6" fill="#fff"/><rect x="1664" y="911" width="12" height="16" fill="#fff"/><rect x="1807" y="911" width="13" height="16" fill="#fff"/><text x="1658.7" y="924.6" font-size="15.6" text-anchor="middle" fill="#111" font-family="&#39;Liberation Sans&#39;, sans-serif">2</text><text x="1708.3" y="924.6" font-size="15.6" text-anchor="middle" fill="#111" font-family="&#39;Liberation Sans&#39;, sans-serif">8</text><text x="1802.7" y="924.6" font-size="15.6" text-anchor="middle" fill="#111" font-family="&#39;Liberation Sans&#39;, sans-serif">5</text><text x="1824.7" y="924.6" font-size="15.6" text-anchor="middle" fill="#111" font-family="&#39;Liberation Sans&#39;, sans-serif">4</text></g>
<rect x="1835" y="0" width="104" height="945" fill="#fff"/><rect x="1936" y="0" width="3" height="945" fill="#e0e3eb"/><rect x="1836.6000000000001" y="0" width="1.6" height="945" fill="#50535e"/><g fill="#50535e"><rect x="1837.4" y="26.0" width="6.2" height="1.2"/><rect x="1837.4" y="87.3" width="6.2" height="1.2"/><rect x="1837.4" y="148.6" width="6.2" height="1.2"/><rect x="1837.4" y="209.8" width="6.2" height="1.2"/><rect x="1837.4" y="271.1" width="6.2" height="1.2"/><rect x="1837.4" y="332.4" width="6.2" height="1.2"/><rect x="1837.4" y="393.7" width="6.2" height="1.2"/><rect x="1837.4" y="455.0" width="6.2" height="1.2"/><rect x="1837.4" y="516.2" width="6.2" height="1.2"/><rect x="1837.4" y="577.5" width="6.2" height="1.2"/><rect x="1837.4" y="638.8" width="6.2" height="1.2"/><rect x="1837.4" y="700.1" width="6.2" height="1.2"/><rect x="1837.4" y="761.4" width="6.2" height="1.2"/><rect x="1837.4" y="822.6" width="6.2" height="1.2"/><rect x="1837.4" y="883.9" width="6.2" height="1.2"/><rect x="1837.4" y="945.2" width="6.2" height="1.2"/></g><g font-family="&#39;Liberation Sans&#39;, sans-serif" font-size="17.4" fill="#50535e" stroke="#50535e" stroke-width="0.4"><text x="1851.3" y="32.9">1700.000</text><text x="1851.3" y="94.2">1690.000</text><text x="1851.3" y="155.5">1680.000</text><text x="1851.3" y="216.7">1670.000</text><text x="1851.3" y="278.0">1660.000</text><text x="1851.3" y="400.6">1640.000</text><text x="1851.3" y="461.9">1630.000</text><text x="1851.3" y="523.1">1620.000</text><text x="1851.3" y="584.4">1610.000</text><text x="1851.3" y="645.7">1600.000</text><text x="1851.3" y="707.0">1590.000</text><text x="1851.3" y="768.3">1580.000</text><text x="1851.3" y="829.5">1570.000</text><text x="1851.3" y="890.8">1560.000</text><text x="1851.3" y="952.1">1550.000</text></g><rect x="1836.3" y="314" width="99.7" height="26.7" fill="#ef5350"/><rect x="1837.6" y="327.7" width="5.5" height="1.2" fill="#fff"/><text x="1851.3" y="333.8" font-family="&#39;Liberation Sans&#39;, sans-serif" font-size="17.4" fill="#fff" stroke="#fff" stroke-width="0.75">1650.791</text><rect x="1873" y="342.7" width="63" height="26.3" fill="#ef5350"/><text x="1879.5" y="362.3" font-family="&#39;Liberation Sans&#39;, sans-serif" font-size="17.4" fill="#fff" stroke="#fff" stroke-width="0.75" letter-spacing="0.15">33:33</text>
<text x="8.3" y="30.2" font-family="&#39;Liberation Sans&#39;, &#39;Noto Sans CJK SC&#39;, sans-serif" font-size="24" font-weight="400" fill="#131722">黄</text><text x="32.4" y="30.2" font-family="&#39;Liberation Sans&#39;, &#39;Noto Sans CJK SC&#39;, sans-serif" font-size="24" font-weight="400" fill="#131722">金</text><text x="58.6" y="29.4" font-family="&#39;Liberation Sans&#39;, &#39;Noto Sans CJK SC&#39;, sans-serif" font-size="25.5" font-weight="400" fill="#131722">/</text><text x="68.3" y="30.2" font-family="&#39;Liberation Sans&#39;, &#39;Noto Sans CJK SC&#39;, sans-serif" font-size="24" font-weight="400" fill="#131722">美</text><text x="93.0" y="30.2" font-family="&#39;Liberation Sans&#39;, &#39;Noto Sans CJK SC&#39;, sans-serif" font-size="24" font-weight="400" fill="#131722">元</text><circle cx="125.6" cy="21" r="2.1" fill="#b2b5be"/><text x="135.2" y="28.8" font-family="&#39;Liberation Sans&#39;, &#39;Noto Sans CJK SC&#39;, sans-serif" font-size="23.6" fill="#131722" transform="translate(135.2 0) scale(0.885 1) translate(-135.2 0)">OANDA</text><text x="224.0" y="28.1" font-family="&#39;Liberation Sans&#39;, &#39;Noto Sans CJK SC&#39;, sans-serif" font-size="19" fill="#5d606b">开</text><text x="244.2" y="27.1" font-family="&#39;Liberation Sans&#39;, &#39;Noto Sans CJK SC&#39;, sans-serif" font-size="18" fill="#5d606b" stroke="#5d606b" stroke-width="0.45">=</text><text x="255.0" y="27.1" font-family="&#39;Liberation Sans&#39;, &#39;Noto Sans CJK SC&#39;, sans-serif" font-size="18" letter-spacing="0.35" fill="#ef5350" stroke="#ef5350" stroke-width="0.25">1653.176</text><text x="342.8" y="28.1" font-family="&#39;Liberation Sans&#39;, &#39;Noto Sans CJK SC&#39;, sans-serif" font-size="19" fill="#5d606b">高</text><text x="363.0" y="27.1" font-family="&#39;Liberation Sans&#39;, &#39;Noto Sans CJK SC&#39;, sans-serif" font-size="18" fill="#5d606b" stroke="#5d606b" stroke-width="0.45">=</text><text x="374.5" y="27.1" font-family="&#39;Liberation Sans&#39;, &#39;Noto Sans CJK SC&#39;, sans-serif" font-size="18" letter-spacing="0.35" fill="#ef5350" stroke="#ef5350" stroke-width="0.25">1653.943</text><text x="460.7" y="28.1" font-family="&#39;Liberation Sans&#39;, &#39;Noto Sans CJK SC&#39;, sans-serif" font-size="19" fill="#5d606b">低</text><text x="480.9" y="27.1" font-family="&#39;Liberation Sans&#39;, &#39;Noto Sans CJK SC&#39;, sans-serif" font-size="18" fill="#5d606b" stroke="#5d606b" stroke-width="0.45">=</text><text x="491.8" y="27.1" font-family="&#39;Liberation Sans&#39;, &#39;Noto Sans CJK SC&#39;, sans-serif" font-size="18" letter-spacing="0.35" fill="#ef5350" stroke="#ef5350" stroke-width="0.25">1649.711</text><text x="579.6" y="28.1" font-family="&#39;Liberation Sans&#39;, &#39;Noto Sans CJK SC&#39;, sans-serif" font-size="19" fill="#5d606b">收</text><text x="599.8000000000001" y="27.1" font-family="&#39;Liberation Sans&#39;, &#39;Noto Sans CJK SC&#39;, sans-serif" font-size="18" fill="#5d606b" stroke="#5d606b" stroke-width="0.45">=</text><text x="610.3" y="27.1" font-family="&#39;Liberation Sans&#39;, &#39;Noto Sans CJK SC&#39;, sans-serif" font-size="18" letter-spacing="0.35" fill="#ef5350" stroke="#ef5350" stroke-width="0.25">1650.791</text><text x="696.5" y="27.1" font-family="&#39;Liberation Sans&#39;, &#39;Noto Sans CJK SC&#39;, sans-serif" font-size="18" letter-spacing="0.35" fill="#ef5350" stroke="#ef5350" stroke-width="0.25">&#8722;2.385 (&#8722;0.14%)</text>
</svg>
</body></html>
